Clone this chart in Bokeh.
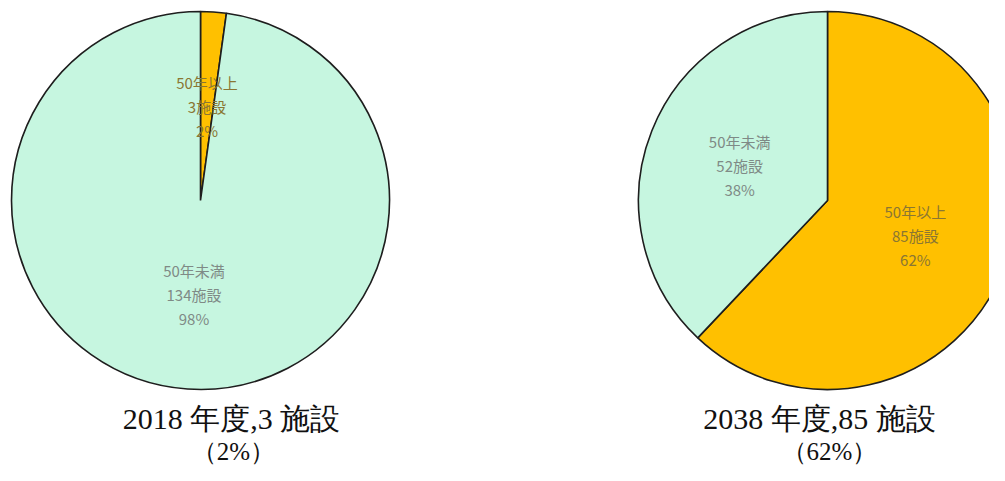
import math
from bokeh.plotting import figure
from bokeh.models import ColumnDataSource, Range1d, Label
from bokeh.core.properties import value
from bokeh.embed import file_html
from bokeh.resources import INLINE

# ---- data ----
categories = ["50年以上", "50年未満"]
counts_2018 = [3, 134]
counts_2038 = [85, 52]
pct_2018 = [2, 98]
pct_2038 = [62, 38]
titles = ["2018 年度,3 施設", "2038 年度,85 施設"]
subtitles = ["（2%）", "（62%）"]

slice_colors = ["#FFC000", "#C6F6E0"]
label_colors = ["#8a7633", "#7f8a86"]

W, H = 989, 465
TOP = 481  # data y of the picture's top edge
p = figure(width=W, height=H, output_backend="svg", toolbar_location=None,
           x_range=Range1d(0, W), y_range=Range1d(TOP - H, TOP),
           min_border=0)
p.axis.visible = False
p.grid.visible = False
p.outline_line_color = None
p.background_fill_color = "white"
p.border_fill_color = "white"

centers_x = [200, 827]
center_y = TOP - 200
R = 189

wx, wy, ws, we, wc = [], [], [], [], []
lx, ly, lt, lc = [], [], [], []
for pi_idx, (counts, pcts) in enumerate([(counts_2018, pct_2018), (counts_2038, pct_2038)]):
    total = sum(counts)
    ang = math.pi / 2
    for i, (c, pc) in enumerate(zip(counts, pcts)):
        sweep = 2 * math.pi * c / total
        start = ang - sweep
        end = ang
        wx.append(centers_x[pi_idx]); wy.append(center_y)
        ws.append(start); we.append(end); wc.append(slice_colors[i])
        mid = (start + end) / 2
        lx.append(centers_x[pi_idx] + 0.5 * R * math.cos(mid))
        ly.append(center_y + 0.5 * R * math.sin(mid))
        lt.append(f"{categories[i]}\n{c}施設\n{pc}%")
        lc.append(label_colors[i])
        ang = start

src = ColumnDataSource(dict(x=wx, y=wy, start=ws, end=we, color=wc))
p.wedge(x="x", y="y", radius=R, start_angle="start", end_angle="end",
        fill_color="color", line_color="#1e1e1e", line_width=1.6, source=src)

lsrc = ColumnDataSource(dict(x=lx, y=ly, text=lt, color=lc))
p.text(x="x", y="y", text="text", text_color="color", source=lsrc,
       text_align="center", text_baseline="middle", text_font_size="15px",
       text_line_height=1.15, text_font=value("Noto Sans CJK JP"))

title_x = [231, 819]
sub_x = [233, 829]
for i in range(2):
    p.add_layout(Label(x=title_x[i], y=TOP - 418, text=titles[i], text_align="center",
                       text_baseline="middle", text_font_size="30px",
                       text_font="Liberation Serif", text_color="#111111"))
    p.add_layout(Label(x=sub_x[i], y=TOP - 451, text=subtitles[i], text_align="center",
                       text_baseline="middle", text_font_size="25px",
                       text_font="Liberation Serif", text_color="#111111"))

open("out.html", "w").write(file_html(p, INLINE))
